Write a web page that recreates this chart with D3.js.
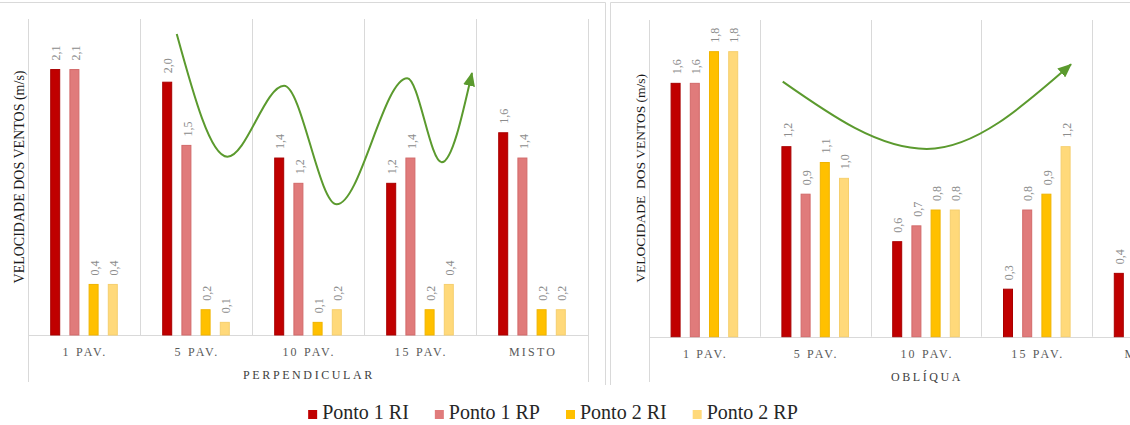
<!DOCTYPE html>
<html>
<head>
<meta charset="utf-8">
<script src="https://cdn.jsdelivr.net/npm/d3@7"></script>
<style>
  html, body { margin: 0; padding: 0; background: #fff; }
  svg { display: block; }
  text { font-family: "Liberation Serif", "Times New Roman", serif; }
</style>
</head>
<body>
<svg id="chart" width="1130" height="425"></svg>
<script>
// Wind speed per building configuration, two wind directions
const categories = ["1 PAV.", "5 PAV.", "10 PAV.", "15 PAV.", "MISTO"];
const seriesNames = ["Ponto 1 RI", "Ponto 1 RP", "Ponto 2 RI", "Ponto 2 RP"];
const seriesColors = ["#C00000", "#E07B7B", "#FFC000", "#FFD97A"];
const seriesStrokes = ["#A80000", "#D26A6A", "#F0B400", "#F6CF6E"];

// PERPENDICULAR
const perpP1RI = [2.1, 2.0, 1.4, 1.2, 1.6];
const perpP1RP = [2.1, 1.5, 1.2, 1.4, 1.4];
const perpP2RI = [0.4, 0.2, 0.1, 0.2, 0.2];
const perpP2RP = [0.4, 0.1, 0.2, 0.4, 0.2];

// OBLÍQUA
const oblP1RI = [1.6, 1.2, 0.6, 0.3, 0.4];
const oblP1RP = [1.6, 0.9, 0.7, 0.8, null];
const oblP2RI = [1.8, 1.1, 0.8, 0.9, null];
const oblP2RP = [1.8, 1.0, 0.8, 1.2, null];

// Trend arrows, in category units (x) and m/s (y)
const perpTrendX = [1.328, 1.78, 2.286, 2.756, 3.386, 3.694, 3.964];
const perpTrendY = [2.381, 1.41, 1.972, 1.034, 2.031, 1.366, 2.073];
const oblTrendX = [1.207, 2.507, 3.809];
const oblTrendY = [1.611, 1.186, 1.72];

const svg = d3.select("#chart");
const gridColor = "#D9D9D9";
const arrowColor = "#5B9A2E";

svg.append("defs").append("marker")
  .attr("id", "arrowHead")
  .attr("viewBox", "0 0 14 12")
  .attr("refX", 13).attr("refY", 6)
  .attr("markerWidth", 14).attr("markerHeight", 12)
  .attr("markerUnits", "userSpaceOnUse")
  .attr("orient", "auto")
  .append("path")
  .attr("d", "M0,0 L14,6 L0,12 Z")
  .attr("fill", arrowColor);

function drawPanel(cfg) {
  const g = svg.append("g");
  const n = categories.length;

  // panel frame (top and sides)
  g.append("path")
    .attr("d", `M${cfg.frameLeft},385 V${cfg.frameTop} H${cfg.frameRight} V385`)
    .attr("fill", "none").attr("stroke", gridColor).attr("stroke-width", 1);

  const x = d3.scaleBand().domain(categories)
    .range([cfg.left, cfg.left + cfg.step * n]).padding(0);
  const xu = d3.scaleLinear().domain([0, n]).range([cfg.left, cfg.left + cfg.step * n]);
  const y = d3.scaleLinear().domain([0, cfg.yMax]).range([cfg.base, cfg.top]);

  const barW = 10, barStep = 19.2;
  const inner = d3.scaleBand().domain(seriesNames)
    .range([(cfg.step - barStep * 4) / 2 + (barStep - barW) / 2,
            (cfg.step + barStep * 4) / 2 - (barStep - barW) / 2])
    .paddingInner(1 - barW / barStep).paddingOuter(0);

  // vertical category separators
  const bounds = d3.range(n + 1);
  g.selectAll(".sep").data(bounds).join("line")
    .attr("x1", d => Math.round(xu(d)) + 0.5).attr("x2", d => Math.round(xu(d)) + 0.5)
    .attr("y1", cfg.top)
    .attr("y2", d => (d === 0 || d === n) ? 382 : cfg.base)
    .attr("stroke", gridColor).attr("stroke-width", 1);

  // baseline
  g.append("line")
    .attr("x1", xu(0)).attr("x2", xu(n))
    .attr("y1", Math.round(cfg.base) + 0.5).attr("y2", Math.round(cfg.base) + 0.5)
    .attr("stroke", gridColor).attr("stroke-width", 1);

  // bars and value labels
  const rows = [];
  categories.forEach((c, i) => {
    cfg.series.forEach((arr, s) => {
      if (arr[i] != null) rows.push({ cat: c, s: s, name: seriesNames[s], v: arr[i] });
    });
  });

  g.selectAll(".bar").data(rows).join("rect")
    .attr("x", d => x(d.cat) + inner(d.name) + 0.5)
    .attr("y", d => y(d.v))
    .attr("width", inner.bandwidth() - 1)
    .attr("height", d => cfg.base - y(d.v))
    .attr("fill", d => seriesColors[d.s])
    .attr("stroke", d => seriesStrokes[d.s])
    .attr("stroke-width", 1);

  g.selectAll(".val").data(rows).join("text")
    .attr("transform", d => {
      const cx = x(d.cat) + inner(d.name) + inner.bandwidth() / 2 + 1;
      return `translate(${cx},${y(d.v) - 9}) rotate(-90)`;
    })
    .attr("dy", "0.35em")
    .attr("text-anchor", "start")
    .attr("font-size", 12)
    .attr("fill", "#8C8C8C")
    .text(d => d3.format(".1f")(d.v).replace(".", ","));

  // category labels
  g.selectAll(".cat").data(categories).join("text")
    .attr("x", d => x(d) + cfg.step / 2 + 1)
    .attr("y", cfg.base + 21)
    .attr("text-anchor", "middle")
    .attr("font-size", 12)
    .attr("letter-spacing", "2.2px")
    .attr("fill", "#595959")
    .text(d => d);

  // axis title under categories
  g.append("text")
    .attr("x", (xu(0) + xu(n)) / 2 + 1)
    .attr("y", cfg.base + 44)
    .attr("text-anchor", "middle")
    .attr("font-size", 12)
    .attr("letter-spacing", "2.6px")
    .attr("fill", "#404040")
    .text(cfg.title);

  // y title
  g.append("text")
    .attr("transform", `translate(${cfg.yTitleX},${(cfg.top + cfg.base) / 2}) rotate(-90)`)
    .attr("text-anchor", "middle")
    .attr("dy", "0.35em")
    .attr("font-size", cfg.yTitleSize)
    .attr("fill", "#1a1a1a")
    .attr("xml:space", "preserve")
    .text(cfg.yTitle);

  // trend arrow
  const pts = cfg.trendX.map((u, i) => [xu(u), y(cfg.trendY[i])]);
  g.append("path")
    .attr("d", d3.line().curve(d3.curveMonotoneX)(pts))
    .attr("fill", "none")
    .attr("stroke", arrowColor)
    .attr("stroke-width", 2)
    .attr("marker-end", "url(#arrowHead)");
}

drawPanel({
  frameLeft: -1, frameRight: 605.5, frameTop: 2.5,
  left: 28, step: 112, top: 19, base: 335, yMax: 2.5,
  series: [perpP1RI, perpP1RP, perpP2RI, perpP2RP],
  title: "PERPENDICULAR",
  yTitle: "VELOCIDADE DOS VENTOS (m/s)", yTitleX: 19, yTitleSize: 14,
  trendX: perpTrendX, trendY: perpTrendY
});

drawPanel({
  frameLeft: 610.5, frameRight: 1300, frameTop: 2.5,
  left: 649, step: 110.8, top: 20, base: 336.7, yMax: 2.0,
  series: [oblP1RI, oblP1RP, oblP2RI, oblP2RP],
  title: "OBLÍQUA",
  yTitle: "VELOCIDADE  DOS VENTOS (m/s)", yTitleX: 640, yTitleSize: 13.5,
  trendX: oblTrendX, trendY: oblTrendY
});

// legend
const legend = svg.append("g");
const items = legend.selectAll("g").data(seriesNames).join("g");
items.append("rect")
  .attr("width", 9).attr("height", 9)
  .attr("y", 410)
  .attr("fill", (d, i) => seriesColors[i]);
items.append("text")
  .attr("x", 14).attr("y", 419)
  .attr("font-size", 20)
  .attr("fill", "#262626")
  .text(d => d);
const widths = [];
items.each(function () {
  widths.push(14 + d3.select(this).select("text").node().getComputedTextLength());
});
const gap = 26;
const total = d3.sum(widths) + gap * (widths.length - 1);
let cursor = 553 - total / 2;
items.attr("transform", (d, i) => {
  const t = `translate(${cursor},0)`;
  cursor += widths[i] + gap;
  return t;
});
</script>
</body>
</html>
